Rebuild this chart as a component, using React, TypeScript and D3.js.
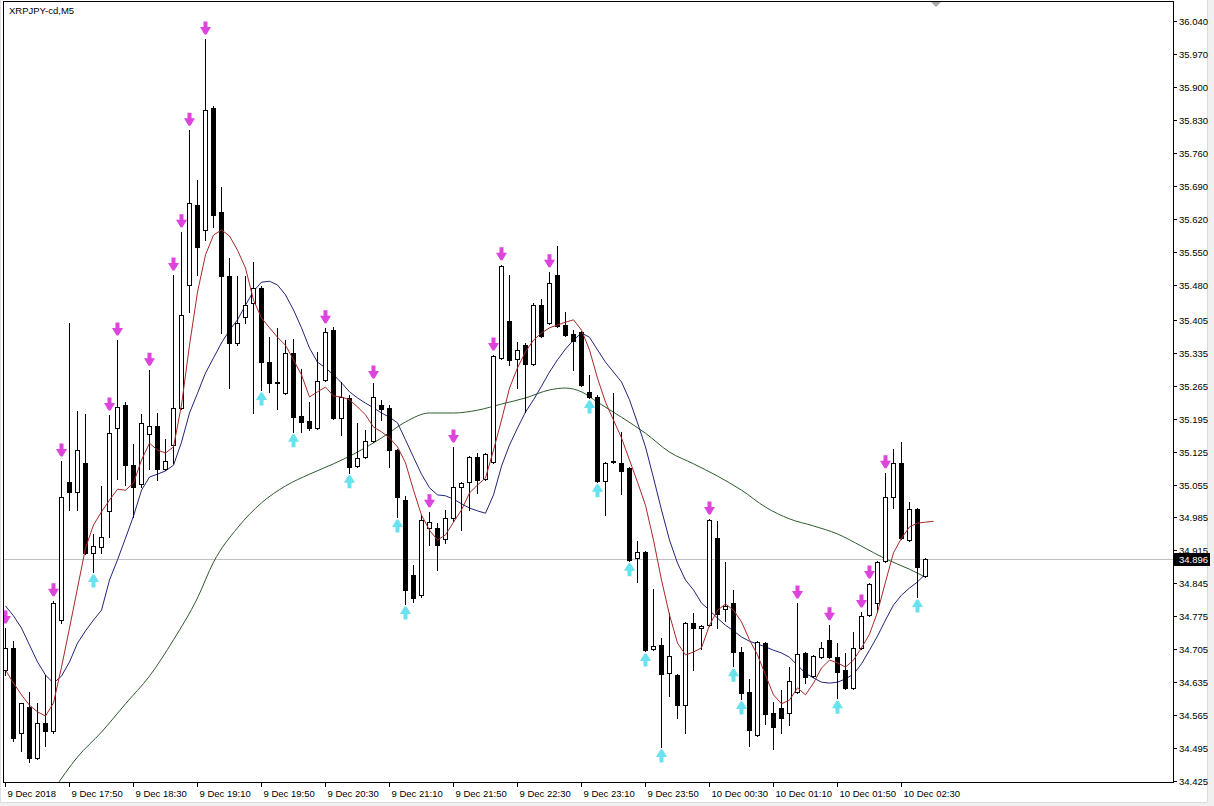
import React from 'react';
import * as d3 from 'd3';

const W = 1214;
const H = 806;

const title = 'XRPJPY-cd,M5';

const opens = [34.661,34.708,34.527,34.582,34.474,34.548,34.531,34.767,35.060,35.039,35.101,34.910,34.922,34.999,35.175,35.224,35.097,35.056,35.162,35.179,35.088,35.139,35.218,35.479,35.649,35.596,35.855,35.634,35.498,35.356,35.411,35.441,35.473,35.315,35.272,35.250,35.335,35.201,35.190,35.175,35.277,35.383,35.196,35.238,35.094,35.114,35.148,35.224,35.218,35.128,35.022,34.863,34.820,34.963,34.963,34.940,34.984,35.050,35.060,35.114,35.067,35.103,35.324,35.403,35.322,35.352,35.311,35.437,35.398,35.500,35.394,35.375,35.379,35.252,35.241,35.063,35.104,35.101,35.090,34.899,34.912,34.705,34.714,34.654,34.650,34.587,34.761,34.750,34.756,34.941,34.790,34.803,34.699,34.614,34.523,34.718,34.570,34.580,34.570,34.614,34.697,34.648,34.689,34.725,34.689,34.661,34.623,34.708,34.778,34.803,34.892,35.029,35.101,34.937,35.003,34.861];
const highs = [34.750,34.722,34.591,34.614,34.591,34.650,34.808,35.105,35.398,35.211,35.205,34.950,35.052,35.203,35.362,35.230,35.141,35.205,35.298,35.207,35.152,35.500,35.592,35.808,35.702,36.002,35.859,35.687,35.536,35.498,35.498,35.528,35.476,35.369,35.388,35.362,35.364,35.300,35.230,35.337,35.388,35.390,35.273,35.245,35.186,35.171,35.271,35.235,35.224,35.130,35.030,34.884,34.990,34.997,34.974,35.000,35.135,35.060,35.116,35.122,35.122,35.330,35.522,35.500,35.358,35.355,35.440,35.449,35.507,35.562,35.422,35.383,35.381,35.288,35.245,35.103,35.250,35.167,35.092,34.935,34.914,34.833,34.729,34.782,34.652,34.763,34.782,34.756,34.982,34.978,34.890,34.831,34.710,34.642,34.722,34.720,34.593,34.618,34.667,34.803,34.699,34.693,34.720,34.757,34.718,34.697,34.742,34.784,34.846,34.892,35.080,35.131,35.145,35.018,35.005,34.898];
const lows = [34.650,34.510,34.489,34.465,34.472,34.499,34.528,34.761,35.001,35.001,34.908,34.869,34.910,34.944,35.067,35.054,34.986,35.050,35.088,35.065,35.085,35.101,35.215,35.422,35.500,35.575,35.602,35.377,35.260,35.352,35.398,35.207,35.256,35.252,35.216,35.248,35.167,35.167,35.171,35.172,35.275,35.194,35.160,35.080,35.092,35.112,35.146,35.192,35.092,34.986,34.801,34.806,34.815,34.927,34.873,34.930,34.978,34.958,35.001,35.037,35.065,35.100,35.322,35.309,35.260,35.209,35.309,35.369,35.396,35.390,35.371,35.298,35.265,35.239,35.061,34.990,35.101,35.035,34.893,34.848,34.701,34.703,34.497,34.606,34.559,34.527,34.661,34.705,34.754,34.750,34.765,34.669,34.599,34.499,34.521,34.546,34.493,34.527,34.544,34.612,34.633,34.646,34.687,34.687,34.601,34.621,34.621,34.706,34.776,34.784,34.890,35.005,34.939,34.935,34.816,34.859];
const closes = [34.708,34.516,34.591,34.474,34.548,34.531,34.803,35.029,35.039,35.128,34.910,34.924,34.944,35.165,35.220,35.097,35.050,35.186,35.179,35.088,35.105,35.218,35.415,35.653,35.560,35.851,35.628,35.498,35.356,35.398,35.437,35.473,35.315,35.271,35.270,35.335,35.199,35.188,35.175,35.275,35.379,35.196,35.241,35.092,35.111,35.148,35.241,35.215,35.128,35.029,34.831,34.814,34.980,34.975,34.927,34.984,35.050,35.058,35.114,35.065,35.120,35.328,35.519,35.320,35.341,35.311,35.437,35.371,35.483,35.392,35.373,35.360,35.267,35.241,35.063,35.101,35.102,35.084,34.895,34.912,34.703,34.712,34.652,34.691,34.587,34.761,34.750,34.754,34.980,34.780,34.797,34.699,34.612,34.533,34.720,34.567,34.540,34.559,34.638,34.695,34.646,34.691,34.708,34.689,34.657,34.623,34.708,34.776,34.844,34.890,35.029,35.101,34.941,35.003,34.880,34.896];

// fast moving average (red), one value per bar, last value one bar ahead
const maFast = [34.661,34.633,34.608,34.586,34.572,34.563,34.591,34.667,34.750,34.835,34.920,34.969,34.997,35.022,35.045,35.043,35.058,35.107,35.143,35.128,35.122,35.135,35.224,35.351,35.464,35.543,35.585,35.596,35.583,35.553,35.515,35.447,35.409,35.388,35.368,35.351,35.320,35.288,35.241,35.252,35.262,35.243,35.241,35.235,35.220,35.203,35.177,35.167,35.154,35.135,35.101,35.043,34.990,34.958,34.937,34.948,34.975,35.001,35.037,35.054,35.069,35.128,35.192,35.260,35.303,35.337,35.362,35.377,35.388,35.394,35.400,35.405,35.383,35.341,35.281,35.230,35.192,35.154,35.107,35.060,35.011,34.937,34.852,34.778,34.718,34.693,34.699,34.708,34.756,34.788,34.801,34.788,34.763,34.725,34.693,34.650,34.608,34.589,34.597,34.623,34.608,34.633,34.665,34.682,34.676,34.667,34.682,34.708,34.737,34.784,34.848,34.910,34.941,34.965,34.973,34.975,34.977];

// medium moving average (blue)
const maMid = [34.797,34.776,34.750,34.714,34.678,34.650,34.633,34.648,34.678,34.718,34.744,34.767,34.788,34.852,34.895,34.941,34.988,35.043,35.071,35.077,35.084,35.096,35.145,35.207,35.249,35.292,35.324,35.356,35.383,35.405,35.436,35.466,35.485,35.487,35.479,35.458,35.426,35.388,35.345,35.315,35.303,35.288,35.271,35.252,35.239,35.228,35.218,35.207,35.198,35.186,35.150,35.113,35.077,35.048,35.033,35.031,35.024,35.014,35.005,34.999,34.994,35.033,35.094,35.139,35.175,35.209,35.235,35.264,35.294,35.320,35.343,35.362,35.377,35.368,35.341,35.315,35.294,35.273,35.235,35.186,35.135,35.069,35.001,34.937,34.888,34.852,34.831,34.803,34.788,34.771,34.756,34.744,34.731,34.722,34.716,34.710,34.703,34.697,34.688,34.671,34.654,34.644,34.635,34.633,34.635,34.642,34.652,34.674,34.703,34.733,34.767,34.799,34.820,34.835,34.848,34.865];

// slow moving average (green), read at these bars
const maSlowBars = [6,9,12,15,18,21,24,26,29,32,35,38,41,44,47,50,53,56,59,62,65,68,70,72,74,77,80,83,86,89,92,95,98,101,104,107,110,113,115];
const maSlow = [34.406,34.476,34.529,34.589,34.648,34.725,34.814,34.890,34.963,35.016,35.052,35.077,35.099,35.124,35.154,35.188,35.207,35.207,35.213,35.226,35.239,35.256,35.260,35.252,35.230,35.198,35.164,35.124,35.099,35.073,35.043,35.007,34.982,34.967,34.950,34.924,34.897,34.875,34.858];

const sellArrowBars = [0,6,7,13,14,18,21,22,23,25,40,46,53,56,61,62,68,88,99,103,107,108,110];
const buyArrowBars = [11,32,36,43,49,50,73,74,78,80,82,91,92,104,114];

const timeLabelBars = [0,8,16,24,32,40,48,56,64,72,80,88,96,104,112];
const timeLabels = ['9 Dec 2018','9 Dec 17:50','9 Dec 18:30','9 Dec 19:10','9 Dec 19:50','9 Dec 20:30','9 Dec 21:10','9 Dec 21:50','9 Dec 22:30','9 Dec 23:10','9 Dec 23:50','10 Dec 00:30','10 Dec 01:10','10 Dec 01:50','10 Dec 02:30'];

const priceTicks = [36.040,35.970,35.900,35.830,35.760,35.690,35.620,35.550,35.480,35.405,35.335,35.265,35.195,35.125,35.055,34.985,34.915,34.845,34.775,34.705,34.635,34.565,34.495,34.425];

const lastPrice = 34.896;

const FONT = '"Liberation Sans", Arial, sans-serif';

export default function App() {
  const left = 4, right = 1173, top = 2, bottom = 782;
  const x = d3.scaleLinear().domain([0, 115]).range([5.5, 925.5]);
  const y = d3.scaleLinear().domain([34.425, 36.040]).range([781, 21]);

  const fastLine = d3.line<number>().x((_, i) => x(i)).y(d => y(d));
  const midLine = d3.line<number>().x((_, i) => x(i)).y(d => y(d));
  const slowLine = d3.line<number>().x((_, i) => x(maSlowBars[i])).y(d => y(d)).curve(d3.curveMonotoneX);

  // thick Wingdings-like arrows, about 11px wide and 13px tall
  const downArrow = (cx: number, cy: number) =>
    `M${cx - 2},${cy - 6.5} L${cx + 2},${cy - 6.5} L${cx + 2},${cy - 1} L${cx + 5.5},${cy - 1} L${cx + 1},${cy + 6.5} L${cx - 1},${cy + 6.5} L${cx - 5.5},${cy - 1} L${cx - 2},${cy - 1} Z`;
  const upArrow = (cx: number, cy: number) =>
    `M${cx - 2},${cy + 6.5} L${cx + 2},${cy + 6.5} L${cx + 2},${cy + 1} L${cx + 5.5},${cy + 1} L${cx + 1},${cy - 6.5} L${cx - 1},${cy - 6.5} L${cx - 5.5},${cy + 1} L${cx - 2},${cy + 1} Z`;

  const py = Math.round(y(lastPrice)) + 0.5;

  return (
    <svg width={W} height={H} style={{ position: 'absolute', left: 0, top: 0, background: '#fff' }}
      fontFamily={FONT}>
      <defs>
        <clipPath id="plotClip">
          <rect x={left} y={top} width={right - left} height={bottom - top} />
        </clipPath>
      </defs>
      <rect x={0} y={0} width={W} height={H} fill="#fff" />
      <rect x={1207} y={0} width={7} height={H} fill="#f0f0f0" />
      <rect x={0} y={802} width={W} height={4} fill="#f0f0f0" />
      <line x1={1207.5} y1={0} x2={1207.5} y2={802} stroke="#dcdcdc" />
      <line x1={0} y1={802.5} x2={1207} y2={802.5} stroke="#dcdcdc" />
      <line x1={0.5} y1={0} x2={0.5} y2={802} stroke="#e0e0e0" />

      <g clipPath="url(#plotClip)">
        {/* price line */}
        <line x1={left} x2={right} y1={py} y2={py} stroke="#c0c0c0" />

        {/* slow MA */}
        <path d={slowLine(maSlow) || ''} fill="none" stroke="#2d5a2d" strokeWidth={1} />
        {/* mid MA */}
        <path d={midLine(maMid) || ''} fill="none" stroke="#23237a" strokeWidth={1} />

        {/* candles */}
        {opens.map((o, i) => {
          const c = closes[i];
          const cx = Math.round(x(i) - 0.5) + 0.5;
          const yH = Math.round(y(highs[i]));
          const yL = Math.round(y(lows[i]));
          const yO = Math.round(y(o));
          const yC = Math.round(y(c));
          const bull = c >= o;
          const bt = Math.min(yO, yC);
          const bb = Math.max(yO, yC);
          return (
            <g key={i}>
              <line x1={cx} x2={cx} y1={yH} y2={yL + 1} stroke="#000" strokeWidth={1} />
              {bull ? (
                <rect x={cx - 2} y={bt + 0.5} width={4} height={Math.max(bb - bt, 1)} fill="#fff" stroke="#000" strokeWidth={1} />
              ) : (
                <rect x={cx - 2.5} y={bt} width={5} height={Math.max(bb - bt + 1, 1)} fill="#000" />
              )}
            </g>
          );
        })}

        {/* fast MA */}
        <path d={fastLine(maFast) || ''} fill="none" stroke="#a52a2a" strokeWidth={1} />

        {/* signal arrows */}
        {sellArrowBars.map(i => (
          <path key={'s' + i} d={downArrow(x(i), y(highs[i]) - 11)} fill="#dd44dd" />
        ))}
        {buyArrowBars.map(i => (
          <path key={'b' + i} d={upArrow(x(i), y(lows[i]) + 9)} fill="#66e3ee" />
        ))}
      </g>

      {/* frame */}
      <rect x={3.5} y={1.5} width={right - 3} height={bottom - 1} fill="none" stroke="#000" />
      <polygon points="931,2 941,2 936,7" fill="#a8a8a8" />

      <text x={9} y={14} fontSize={9.5} fill="#000">{title}</text>

      {/* y axis */}
      {priceTicks.map(v => {
        const ty = Math.round(y(v)) + 0.5;
        return (
          <g key={v}>
            <line x1={right} x2={right + 4} y1={ty} y2={ty} stroke="#000" />
            <text x={right + 6} y={ty + 3.5} fontSize={9.5} fill="#000">{v.toFixed(3)}</text>
          </g>
        );
      })}
      <rect x={right + 1} y={py - 6.5} width={36} height={13} fill="#000" />
      <text x={right + 6} y={py + 3.5} fontSize={9.5} fill="#fff">{lastPrice.toFixed(3)}</text>

      {/* x axis */}
      {timeLabelBars.map((b, k) => {
        const tx = Math.round(x(b) - 0.5) + 0.5;
        return (
          <g key={b}>
            <line x1={tx} x2={tx} y1={bottom} y2={bottom + 5} stroke="#000" />
            <text x={tx + 2} y={797} fontSize={9.5} fill="#000">{timeLabels[k]}</text>
          </g>
        );
      })}
    </svg>
  );
}
